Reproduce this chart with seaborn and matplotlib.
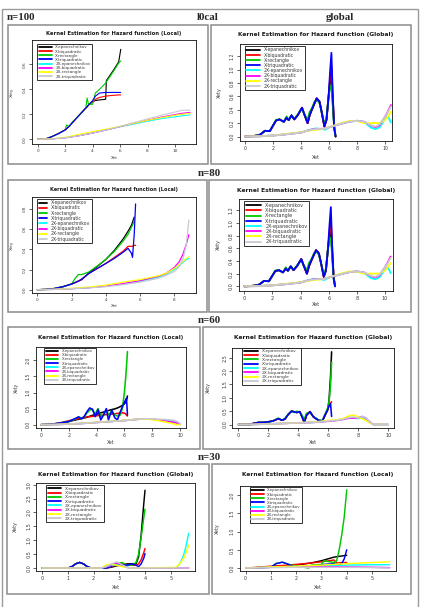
import numpy as np
import pandas as pd
import matplotlib
matplotlib.use("Agg")
import matplotlib.pyplot as plt
import seaborn as sns
from matplotlib.patches import Rectangle
from matplotlib.lines import Line2D

# ---------------- data ----------------
SERIES = ["X-epanechnikov", "X-biquadratic", "X-rectangle", "X-triquadratic",
          "2X-epanechnikov", "2X-biquadratic", "2X-rectangle", "2X-triquadratic"]
COLORS = ["#000000", "#FF0000", "#00C800", "#0000FF",
          "#00FFFF", "#FF00FF", "#FFFF00", "#C8C8D2"]

HEADERS = ["n=100", "l0cal", "global", "n=80", "n=60", "n=30"]
TITLE_LOCAL = "Kernel Estimation for Hazard function (Local)"
TITLE_GLOBAL = "Kernel Estimation for Hazard function (Global)"

# n=100, local
P1_XA = [0.0, 0.5, 1.0, 1.5, 2.0, 2.1, 2.3, 2.5, 3.0, 3.5, 3.6, 3.7, 4.0, 4.2, 4.5, 4.95, 5.0, 5.5, 5.9, 6.05]
P1_EPAN = [0, 0, 0.02, 0.045, 0.075, 0.085, 0.105, 0.13, 0.19, 0.25, 0.26, 0.275, 0.30, 0.31, 0.315, 0.32, 0.47, 0.55, 0.62, 0.72]
P1_BIQ = [0, 0, 0.02, 0.045, 0.075, 0.085, 0.105, 0.13, 0.19, 0.25, 0.26, 0.275, 0.30, 0.32, 0.335, 0.345, 0.346, 0.352, 0.355, 0.355]
P1_RECT = [0, 0, 0.02, 0.045, 0.075, 0.115, 0.10, 0.135, 0.19, 0.25, 0.33, 0.28, 0.28, 0.37, 0.40, 0.45, 0.46, 0.54, 0.61, 0.627]
P1_TRI = [0, 0, 0.02, 0.045, 0.075, 0.085, 0.105, 0.13, 0.19, 0.25, 0.26, 0.275, 0.31, 0.345, 0.37, 0.375, 0.375, 0.375, 0.375, 0.375]
P1_XB = [0, 1, 2, 3, 4, 5, 6, 7, 8, 9, 10, 10.5, 11.1]
P1_2EPAN = [0, 0.003, 0.012, 0.03, 0.05, 0.075, 0.1, 0.122, 0.145, 0.165, 0.18, 0.188, 0.195]
P1_2BIQ = [0, 0.003, 0.012, 0.028, 0.05, 0.075, 0.102, 0.128, 0.153, 0.177, 0.198, 0.208, 0.215]
P1_2RECT = [0, 0.004, 0.016, 0.04, 0.062, 0.082, 0.104, 0.128, 0.152, 0.173, 0.192, 0.2, 0.208]
P1_2TRI = [0, 0.003, 0.012, 0.028, 0.05, 0.075, 0.103, 0.133, 0.163, 0.192, 0.218, 0.232, 0.232]

# n=100 / n=80, global
P2_XA = [0, 0.5, 1.0, 1.2, 1.4, 1.75, 2.0, 2.2, 2.45, 2.75, 2.95, 3.1, 3.3, 3.5, 3.75, 4.05,
         4.2, 4.45, 4.6, 4.75, 4.95, 5.1, 5.3, 5.45, 5.65, 5.8, 5.95, 6.05, 6.15, 6.25, 6.35, 6.45]
P2_EPAN = [0, 0.005, 0.02, 0.05, 0.085, 0.08, 0.17, 0.24, 0.255, 0.22, 0.28, 0.245, 0.315, 0.255, 0.32, 0.43,
           0.34, 0.2, 0.32, 0.4, 0.5, 0.57, 0.52, 0.37, 0.15, 0.25, 0.6, 0.8, 0.87, 0.5, 0.15, 0.0]
P2_BIQ = [0, 0.005, 0.02, 0.05, 0.085, 0.08, 0.17, 0.24, 0.255, 0.22, 0.28, 0.245, 0.315, 0.255, 0.32, 0.43,
          0.34, 0.2, 0.32, 0.4, 0.5, 0.57, 0.52, 0.37, 0.15, 0.25, 0.6, 0.85, 1.05, 0.6, 0.15, 0.0]
P2_RECT = [0, 0.005, 0.02, 0.05, 0.085, 0.08, 0.17, 0.25, 0.255, 0.22, 0.30, 0.245, 0.315, 0.26, 0.33, 0.42,
           0.34, 0.25, 0.37, 0.42, 0.52, 0.55, 0.5, 0.37, 0.18, 0.28, 0.6, 0.72, 0.77, 0.45, 0.12, 0.0]
P2_TRI = [0, 0.005, 0.02, 0.05, 0.085, 0.08, 0.17, 0.24, 0.255, 0.22, 0.28, 0.245, 0.315, 0.255, 0.32, 0.43,
          0.34, 0.2, 0.32, 0.4, 0.5, 0.57, 0.52, 0.37, 0.15, 0.25, 0.6, 0.95, 1.25, 0.6, 0.12, 0.0]
P2_XB = [0, 1, 2, 3, 4, 4.5, 5, 5.5, 5.7, 6, 6.5, 7, 7.5, 8, 8.5, 9.0, 9.3, 9.6, 10.0, 10.2, 10.4]
P2_2EPAN = [0, 0.003, 0.015, 0.035, 0.06, 0.095, 0.12, 0.11, 0.1, 0.135, 0.17, 0.2, 0.225, 0.235, 0.215, 0.13, 0.11, 0.14, 0.27, 0.3, 0.21]
P2_2BIQ = [0, 0.003, 0.015, 0.035, 0.06, 0.09, 0.115, 0.115, 0.12, 0.14, 0.17, 0.2, 0.225, 0.235, 0.22, 0.16, 0.14, 0.17, 0.3, 0.38, 0.47]
P2_2RECT = [0, 0.003, 0.015, 0.04, 0.065, 0.085, 0.1, 0.11, 0.12, 0.14, 0.175, 0.21, 0.235, 0.23, 0.2, 0.2, 0.2, 0.2, 0.25, 0.3, 0.37]
P2_2TRI = [0, 0.003, 0.015, 0.035, 0.06, 0.09, 0.112, 0.113, 0.118, 0.14, 0.17, 0.2, 0.225, 0.235, 0.22, 0.165, 0.15, 0.18, 0.3, 0.37, 0.45]

# n=80, local
P3_XA = [0, 0.5, 1.0, 1.5, 2.0, 2.2, 2.4, 2.6, 3.0, 3.5, 4.0, 4.5, 5.0, 5.3, 5.5, 5.56, 5.66, 5.74]
P3_EPAN = [0, 0.003, 0.012, 0.03, 0.056, 0.07, 0.085, 0.1, 0.165, 0.23, 0.30, 0.39, 0.5, 0.58, 0.64, 0.67, 0.72, None]
P3_BIQ = [0, 0.003, 0.012, 0.03, 0.056, 0.07, 0.085, 0.105, 0.16, 0.21, 0.26, 0.32, 0.38, 0.43, 0.43, 0.43, 0.44, 0.44]
P3_RECT = [0, 0.003, 0.012, 0.03, 0.056, 0.11, 0.15, 0.15, 0.175, 0.235, 0.30, 0.38, 0.48, 0.55, 0.62, 0.64, 0.68, None]
P3_TRI = [0, 0.003, 0.012, 0.03, 0.056, 0.07, 0.085, 0.105, 0.16, 0.21, 0.26, 0.31, 0.37, 0.41, 0.36, 0.32, 0.55, 0.85]
P3_XB = [0, 1, 2, 3, 4, 5, 6, 7, 7.5, 8, 8.3, 8.5, 8.7, 8.85]
P3_2EPAN = [0, 0.003, 0.01, 0.02, 0.035, 0.055, 0.085, 0.12, 0.15, 0.2, 0.24, 0.27, 0.3, 0.31]
P3_2BIQ = [0, 0.003, 0.01, 0.02, 0.035, 0.06, 0.09, 0.13, 0.16, 0.22, 0.28, 0.35, 0.45, 0.545]
P3_2RECT = [0, 0.004, 0.013, 0.027, 0.045, 0.075, 0.1, 0.135, 0.16, 0.21, 0.25, 0.28, 0.31, 0.325]
P3_2TRI = [0, 0.003, 0.01, 0.018, 0.03, 0.05, 0.075, 0.11, 0.14, 0.18, 0.23, 0.3, 0.45, 0.69]

# n=60, local
P5_XA = [0, 0.5, 1.0, 1.5, 2.0, 2.5, 2.7, 2.9, 3.1, 3.3, 3.5, 3.7, 3.9, 4.1, 4.3,
         4.5, 4.7, 4.85, 5.1, 5.3, 5.5, 5.7, 5.85, 6.0, 6.1, 6.15, 6.22]
P5_EPAN = [0, 0.005, 0.02, 0.05, 0.1, 0.15, 0.17, 0.19, 0.21, 0.23, 0.26, 0.29, 0.31, 0.34, 0.37,
           0.39, 0.42, 0.44, 0.47, 0.49, 0.52, 0.56, 0.6, 0.65, 0.7, 0.76, 0.89]
P5_BIQ = [0, 0.01, 0.03, 0.07, 0.12, 0.17, 0.19, 0.21, 0.225, 0.24, 0.25, 0.26, 0.27, 0.285, 0.295,
          0.305, 0.315, 0.32, 0.33, 0.34, 0.35, 0.36, 0.37, 0.36, 0.33, 0.3, 0.27]
P5_RECT = [0, 0.005, 0.03, 0.06, 0.1, 0.18, 0.25, 0.2, 0.24, 0.36, 0.45, 0.48, 0.33, 0.5, 0.25,
           0.3, 0.48, 0.3, 0.42, 0.3, 0.27, 0.3, 0.5, 1.0, 1.5, 1.8, 2.27]
P5_TRI = [0, 0.005, 0.03, 0.06, 0.1, 0.2, 0.24, 0.18, 0.25, 0.4, 0.52, 0.48, 0.25, 0.47, 0.15,
          0.3, 0.5, 0.15, 0.45, 0.22, 0.15, 0.4, 0.55, 0.7, 0.78, 0.82, 0.3]
P5_XB = [0, 1, 2, 3, 4, 5, 6, 7, 7.5, 8, 8.5, 9, 9.5, 9.8, 10]
P5_2EPAN = [0, 0.005, 0.02, 0.04, 0.07, 0.1, 0.13, 0.17, 0.18, 0.17, 0.15, 0.13, 0.12, 0.07, 0.03]
P5_2BIQ = [0, 0.005, 0.02, 0.04, 0.07, 0.1, 0.13, 0.17, 0.18, 0.17, 0.14, 0.11, 0.08, 0.05, 0.02]
P5_2RECT = [0, 0.005, 0.02, 0.045, 0.075, 0.105, 0.135, 0.17, 0.175, 0.16, 0.12, 0.08, 0.03, 0.0, 0.0]
P5_2TRI = [0, 0.005, 0.02, 0.04, 0.07, 0.1, 0.13, 0.17, 0.185, 0.18, 0.17, 0.16, 0.14, 0.1, 0.03]

# n=60, global
P6_XA = [0, 0.8, 1.0, 1.33, 1.7, 2.0, 2.3, 2.67, 2.9, 3.1, 3.33, 3.55, 3.75, 3.9, 4.1,
         4.3, 4.4, 4.55, 4.78, 5.0, 5.33, 5.6, 5.78, 5.95, 6.05, 6.15, 6.22]
P6_EPAN = [0, 0, 0.04, 0.075, 0.08, 0.1, 0.13, 0.22, 0.16, 0.2, 0.375, 0.5, 0.47, 0.45, 0.48,
           0.22, 0.075, 0.35, 0.48, 0.29, 0.16, 0.125, 0.35, 0.54, 0.9, 1.8, 2.72]
P6_BIQ = [0, 0, 0.04, 0.075, 0.08, 0.1, 0.13, 0.22, 0.16, 0.2, 0.375, 0.5, 0.47, 0.45, 0.48,
          0.22, 0.075, 0.35, 0.48, 0.29, 0.16, 0.125, 0.35, 0.54, 0.7, 0.8, 0.85]
P6_RECT = [0, 0, 0.04, 0.075, 0.08, 0.1, 0.13, 0.24, 0.16, 0.22, 0.39, 0.5, 0.45, 0.5, 0.46,
           0.3, 0.2, 0.42, 0.45, 0.3, 0.18, 0.15, 0.38, 0.6, 0.85, 1.5, 2.33]
P6_TRI = [0, 0, 0.04, 0.075, 0.08, 0.1, 0.13, 0.22, 0.16, 0.2, 0.375, 0.5, 0.47, 0.45, 0.48,
          0.22, 0.075, 0.35, 0.48, 0.29, 0.16, 0.125, 0.35, 0.54, 0.7, 0.78, 0.3]
P6_XB = [0, 1, 2, 3, 4, 5, 5.5, 6, 6.5, 7, 7.4, 7.7, 8.0, 8.25, 8.5, 8.75, 9.0, 10]
P6_2EPAN = [0, 0.002, 0.02, 0.04, 0.06, 0.08, 0.1, 0.13, 0.15, 0.2, 0.26, 0.25, 0.22, 0.27, 0.2, 0.08, 0.0, 0.0]
P6_2BIQ = [0, 0.002, 0.02, 0.04, 0.06, 0.08, 0.1, 0.12, 0.15, 0.19, 0.24, 0.24, 0.25, 0.3, 0.24, 0.1, 0.0, 0.0]
P6_2RECT = [0, 0.002, 0.02, 0.04, 0.065, 0.09, 0.12, 0.15, 0.17, 0.22, 0.33, 0.35, 0.28, 0.22, 0.15, 0.06, 0.0, 0.0]
P6_2TRI = [0, 0.002, 0.02, 0.04, 0.06, 0.08, 0.1, 0.13, 0.15, 0.2, 0.26, 0.28, 0.24, 0.3, 0.25, 0.1, 0.0, 0.0]

# n=30, global
P7_XA = [0, 1.0, 1.15, 1.3, 1.45, 1.6, 1.75, 1.9, 2.5, 2.7, 2.9, 3.1, 3.3, 3.5, 3.65, 3.75, 3.85, 3.95, 4.0]
P7_EPAN = [0, 0, 0.05, 0.15, 0.2, 0.15, 0.05, 0, 0, 0.03, 0.08, 0.1, 0.15, 0.15, 0.15, 0.4, 1.2, 2.3, 2.8]
P7_BIQ = [0, 0, 0.05, 0.15, 0.2, 0.15, 0.05, 0, 0, 0.05, 0.12, 0.15, 0.12, 0.1, 0.1, 0.15, 0.3, 0.55, 0.7]
P7_RECT = [0, 0, 0.05, 0.15, 0.2, 0.15, 0.05, 0, 0, 0.08, 0.15, 0.2, 0.1, 0.1, 0.2, 0.5, 1.1, 1.8, 2.12]
P7_TRI = [0, 0, 0.05, 0.15, 0.2, 0.15, 0.05, 0, 0, 0.07, 0.18, 0.12, 0.1, 0.15, 0.1, 0.05, 0.15, 0.35, 0.52]
P7_XB = [0, 2.3, 2.5, 2.7, 2.9, 3.1, 3.3, 3.5, 5.2, 5.35, 5.5, 5.6, 5.7]
P7_2EPAN = [0, 0, 0.05, 0.1, 0.12, 0.08, 0.02, 0, 0, 0.15, 0.45, 0.8, 1.25]
P7_2BIQ = [0, 0, 0.05, 0.12, 0.18, 0.1, 0.02, 0, 0, 0, 0, 0, 0]
P7_2RECT = [0, 0, 0.12, 0.13, 0.1, 0.05, 0.02, 0, 0.02, 0.15, 0.35, 0.55, 0.82]
P7_2TRI = [0, 0, 0.05, 0.15, 0.22, 0.12, 0.02, 0, 0, 0, 0, 0, 0]

# n=30, local
P8_XA = [0, 0.5, 1.0, 1.2, 1.45, 1.7, 2.0, 2.5, 2.6, 3.0, 3.1, 3.5, 3.6, 3.7, 3.8, 3.9, 4.0]
P8_EPAN = [0, 0.01, 0.03, 0.04, 0.05, 0.06, 0.08, 0.13, 0.14, 0.2, 0.22, 0.3, 0.31, 0.32, 0.33, 0.34, 0.35]
P8_BIQ = [0, 0.02, 0.05, 0.06, 0.07, 0.08, 0.1, 0.13, 0.14, 0.17, 0.18, 0.22, 0.14, 0.14, 0.15, 0.15, 0.15]
P8_RECT = [0, 0.01, 0.02, 0.12, 0.16, 0.1, 0.05, 0.0, 0.08, 0.1, 0.2, 0.15, 0.2, 0.5, 0.9, 1.4, 2.15]
P8_TRI = [0, 0.01, 0.02, 0.12, 0.16, 0.1, 0.02, 0.02, 0.03, 0.08, 0.1, 0.12, 0.1, 0.08, 0.12, 0.25, 0.5]
P8_XB = [0, 1, 2, 3, 4, 5, 5.7]
P8_2EPAN = [0, 0.02, 0.04, 0.06, 0.08, 0.09, 0.09]
P8_2BIQ = [0, 0.02, 0.03, 0.04, 0.03, 0.02, 0.01]
P8_2RECT = [0, 0.03, 0.05, 0.08, 0.12, 0.15, 0.17]
P8_2TRI = [0, 0.01, 0.02, 0.02, 0.02, 0.01, 0.0]

# ---------------- layout (pixels) ----------------
PANELS = [
    dict(title=TITLE_LOCAL, frame=(7.5, 25, 208, 164), box=(31.6, 40, 196.3, 144),
         xmap=(0, 37.7, 10, 175), ymap=(0, 139.3, 0.6, 64.3), xt=[0, 2, 4, 6, 8, 10], yt=[0, 0.2, 0.4, 0.6],
         ty=33.3, tw=132, xly=158.3, ylx=11.7, leg=(37.3, 44, 58, 36), lw=0.8,
         xa=P1_XA, ya=[P1_EPAN, P1_BIQ, P1_RECT, P1_TRI], xb=P1_XB, yb=[P1_2EPAN, P1_2BIQ, P1_2RECT, P1_2TRI]),
    dict(title=TITLE_GLOBAL, frame=(211, 25, 410.5, 164.5), box=(239.5, 44, 392.3, 141),
         xmap=(0, 245.3, 10, 385.3), ymap=(0, 136.5, 1.2, 56.2), xt=[0, 2, 4, 6, 8, 10],
         yt=[0, 0.2, 0.4, 0.6, 0.8, 1.0, 1.2],
         ty=34.3, tw=152, xly=157.7, ylx=219, leg=(244.7, 45.7, 60, 43.3), lw=1.3,
         xa=P2_XA, ya=[P2_EPAN, P2_BIQ, P2_RECT, P2_TRI], xb=P2_XB, yb=[P2_2EPAN, P2_2BIQ, P2_2RECT, P2_2TRI]),
    dict(title=TITLE_LOCAL, frame=(7.5, 180, 207.3, 312), box=(32.3, 197.3, 195.7, 293),
         xmap=(0, 37.3, 8, 174.3), ymap=(0, 289.7, 0.8, 209), xt=[0, 2, 4, 6, 8], yt=[0, 0.2, 0.4, 0.6, 0.8],
         ty=189, tw=127, xly=306.3, ylx=11.7, leg=(37.3, 198.7, 49.5, 40), lw=0.9,
         xa=P3_XA, ya=[P3_EPAN, P3_BIQ, P3_RECT, P3_TRI], xb=P3_XB, yb=[P3_2EPAN, P3_2BIQ, P3_2RECT, P3_2TRI]),
    dict(title=TITLE_GLOBAL, frame=(209.3, 180, 410.5, 312), box=(238.7, 198.7, 392.7, 291.3),
         xmap=(0, 244.3, 10, 385), ymap=(0, 286.3, 1.2, 210.3), xt=[0, 2, 4, 6, 8, 10],
         yt=[0, 0.2, 0.4, 0.6, 0.8, 1.0, 1.2],
         ty=190.7, tw=155, xly=304.7, ylx=218, leg=(244.3, 201.3, 67.7, 40.7), lw=1.3,
         xa=P2_XA, ya=[P2_EPAN, P2_BIQ, P2_RECT, P2_TRI], xb=P2_XB, yb=[P2_2EPAN, P2_2BIQ, P2_2RECT, P2_2TRI]),
    dict(title=TITLE_LOCAL, frame=(8.3, 327.3, 199.5, 449.3), box=(35.5, 347, 185.5, 428),
         xmap=(0, 41, 10, 180), ymap=(0, 424.7, 2.0, 360.3), xt=[0, 2, 4, 6, 8, 10], yt=[0, 0.5, 1.0, 1.5, 2.0],
         ty=337.3, tw=142, xly=442.3, ylx=16.7, leg=(44.3, 347.7, 60.7, 38.3), lw=1.15,
         xa=P5_XA, ya=[P5_EPAN, P5_BIQ, P5_RECT, P5_TRI], xb=P5_XB, yb=[P5_2EPAN, P5_2BIQ, P5_2RECT, P5_2TRI]),
    dict(title=TITLE_GLOBAL, frame=(203, 327.3, 410.5, 449.3), box=(232.3, 348, 394.3, 427.5),
         xmap=(0, 238.3, 10, 388.3), ymap=(0, 424.5, 2.5, 357.7), xt=[0, 2, 4, 6, 8, 10],
         yt=[0, 0.5, 1.0, 1.5, 2.0, 2.5],
         ty=337.3, tw=157, xly=442.3, ylx=208.3, leg=(242.3, 347.7, 70, 37.3), lw=1.15,
         xa=P6_XA, ya=[P6_EPAN, P6_BIQ, P6_RECT, P6_TRI], xb=P6_XB, yb=[P6_2EPAN, P6_2BIQ, P6_2RECT, P6_2TRI]),
    dict(title=TITLE_GLOBAL, frame=(7.3, 464.3, 209.3, 594.3), box=(36.4, 483, 194.5, 571),
         xmap=(0, 42.3, 5, 170.7), ymap=(0, 568, 3.0, 484.7), xt=[0, 1, 2, 3, 4, 5],
         yt=[0, 0.5, 1.0, 1.5, 2.0, 2.5, 3.0],
         ty=474.7, tw=153, xly=587.7, ylx=15, leg=(46, 485.3, 58, 39.4), lw=1.05,
         xa=P7_XA, ya=[P7_EPAN, P7_BIQ, P7_RECT, P7_TRI], xb=P7_XB, yb=[P7_2EPAN, P7_2BIQ, P7_2RECT, P7_2TRI]),
    dict(title=TITLE_LOCAL, frame=(211.5, 464.3, 410.5, 594.3), box=(239.9, 486.4, 395.5, 571),
         xmap=(0, 245.7, 5, 372), ymap=(0, 568, 2.0, 495.3), xt=[0, 1, 2, 3, 4, 5], yt=[0, 0.5, 1.0, 1.5, 2.0],
         ty=474.7, tw=149, xly=587.7, ylx=217.7, leg=(250, 487, 61, 38.3), lw=1.05,
         xa=P8_XA, ya=[P8_EPAN, P8_BIQ, P8_RECT, P8_TRI], xb=P8_XB, yb=[P8_2EPAN, P8_2BIQ, P8_2RECT, P8_2TRI]),
]

sns.set_theme(style="white")
plt.rcParams["font.family"] = ["DejaVu Sans"]

W, H = 423, 607
fig = plt.figure(figsize=(W / 100, H / 100), dpi=100)
fig.patch.set_facecolor("white")
renderer = fig.canvas.get_renderer()


def fx(px):
    return px / W


def fy(py):
    return 1 - py / H


def draw_series(ax, xs, ys, color, lw):
    df = pd.DataFrame({"x": xs, "y": pd.to_numeric(pd.Series(ys), errors="coerce")}).dropna()
    sns.lineplot(data=df, x="x", y="y", ax=ax, color=color, linewidth=lw,
                 sort=False, estimator=None, legend=False)


def make_legend(ax, x, y, fs, hl):
    handles = [Line2D([], [], color=c, lw=1.3) for c in COLORS]
    leg = ax.legend(handles, SERIES, loc="upper left",
                    bbox_to_anchor=(fx(x), fy(y)), bbox_transform=fig.transFigure,
                    fontsize=fs, frameon=True, fancybox=False, edgecolor="#111111", framealpha=1,
                    borderpad=0.35, labelspacing=0.04, handlelength=hl, handletextpad=0.8,
                    borderaxespad=0)
    leg.get_frame().set_linewidth(0.6)
    for txt in leg.get_texts():
        txt.set_color("#3a3a3a")
    return leg


# outer border
fig.add_artist(Rectangle((fx(2), fy(612)), (417.7 - 2) / W, (612 - 9) / H, transform=fig.transFigure,
                         fill=False, ec="#9a9a9a", lw=1.0))

# headers
hdr = dict(family=["Liberation Serif", "DejaVu Serif"], weight="bold", fontsize=7.8, va="center")
fig.text(fx(6.5), fy(17), HEADERS[0], ha="left", **hdr)
fig.text(fx(207.7), fy(17), HEADERS[1], ha="center", **hdr)
fig.text(fx(340), fy(17), HEADERS[2], ha="center", **hdr)
fig.text(fx(209), fy(173.3), HEADERS[3], ha="center", **hdr)
fig.text(fx(209), fy(320.7), HEADERS[4], ha="center", **hdr)
fig.text(fx(209), fy(457.3), HEADERS[5], ha="center", **hdr)

for p in PANELS:
    fl, ft, fr, fb = p["frame"]
    fig.add_artist(Rectangle((fx(fl), fy(fb)), (fr - fl) / W, (fb - ft) / H, transform=fig.transFigure,
                             fill=False, ec="#8c8c8c", lw=1.1))
    L, T, R, B = p["box"]
    ax = fig.add_axes([fx(L), fy(B), (R - L) / W, (B - T) / H])
    ax.set_facecolor("white")

    # title fitted to measured width
    t = fig.text(fx((L + R) / 2), fy(p["ty"]), p["title"], fontsize=4, weight="bold",
                 ha="center", va="center", color="#1a1a1a")
    w = t.get_window_extent(renderer).width
    tfs = 4 * p["tw"] / w
    t.set_fontsize(tfs)
    s = tfs / 3.9

    for ys, c in zip(p["ya"], COLORS[:4]):
        draw_series(ax, p["xa"], ys, c, p["lw"])
    for ys, c in zip(p["yb"], COLORS[4:]):
        draw_series(ax, p["xb"], ys, c, p["lw"])

    v0, p0, v1, p1 = p["xmap"]
    sc = (v1 - v0) / (p1 - p0)
    ax.set_xlim(v0 + (L - p0) * sc, v0 + (R - p0) * sc)
    v0, p0, v1, p1 = p["ymap"]
    sc = (v1 - v0) / (p1 - p0)
    ax.set_ylim(v0 + (B - p0) * sc, v0 + (T - p0) * sc)

    tick_fs = 3.2 * s
    ax.set_xticks(p["xt"])
    ax.set_xticklabels([f"{v:g}" for v in p["xt"]], fontsize=tick_fs)
    ax.set_yticks(p["yt"])
    ax.set_yticklabels([f"{v:.1f}" for v in p["yt"]], fontsize=tick_fs, rotation=90, va="center")
    ax.tick_params(axis="both", direction="out", length=2.2, width=0.5, pad=1.5, colors="#222222",
                   bottom=True, left=True)
    for lab in ax.get_xticklabels() + ax.get_yticklabels():
        lab.set_color("#3a3a3a")
    for sp in ax.spines.values():
        sp.set_color("#111111")
        sp.set_linewidth(0.6)
        sp.set_visible(True)
    ax.grid(False)

    ax.set_xlabel("Xet", fontsize=tick_fs, va="center", ha="center", color="#3a3a3a")
    ax.xaxis.set_label_coords(0.5, -(p["xly"] - B) / (B - T))
    ax.set_ylabel("Xety", fontsize=tick_fs, va="center", ha="center", color="#3a3a3a")
    ax.yaxis.set_label_coords(-(L - p["ylx"]) / (R - L), 0.5)

    # legend fitted to the measured legend box (height by font size, width by handle length)
    lx, ly, lwid, lhgt = p["leg"]
    fs, hl = 3.0, 2.5
    leg = make_legend(ax, lx, ly, fs, hl)
    for _ in range(3):
        bb = leg.get_window_extent(renderer)
        fs = fs * lhgt / bb.height
        leg.remove()
        leg = make_legend(ax, lx, ly, fs, hl)
        bb = leg.get_window_extent(renderer)
        fpx = fs * 100 / 72
        hl = min(3.2, max(1.8, hl + (lwid - bb.width) / fpx))
        leg.remove()
        leg = make_legend(ax, lx, ly, fs, hl)

fig.savefig("out.png", dpi=100)
